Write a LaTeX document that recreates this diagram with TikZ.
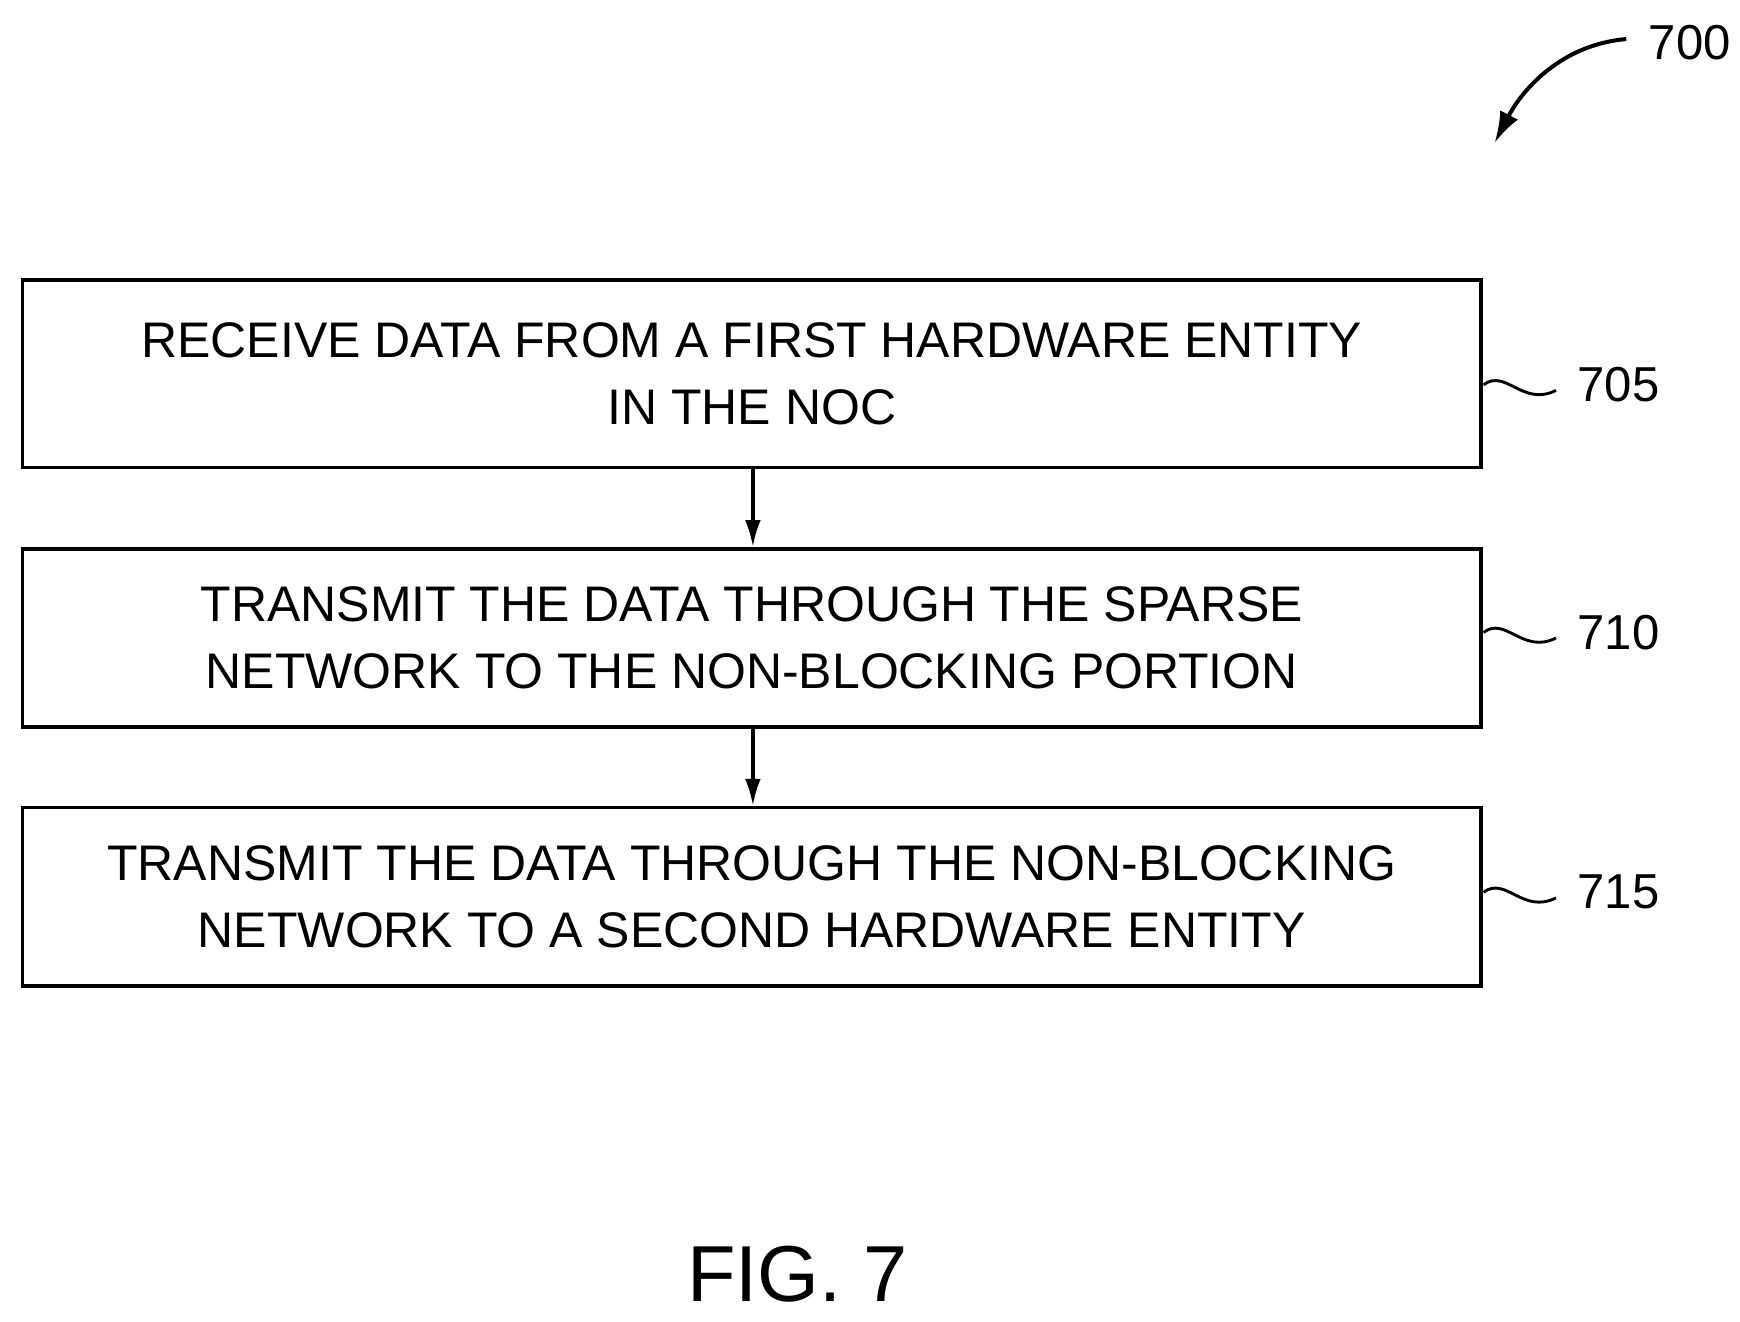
\documentclass[tikz,border=0pt]{standalone}
\usepackage{fontspec}
\setmainfont{Liberation Sans}
\begin{document}
\begin{tikzpicture}[x=0.5pt,y=-0.5pt,
 box/.style={draw,line width=1.6pt,minimum width=654pt,minimum height=84pt,align=center,font=\fontsize{22.4}{30}\selectfont,inner sep=0pt},
 lab/.style={font=\fontsize{22}{24}\selectfont},
 arr/.style={-{Latex[length=12pt,width=7pt]},line width=1.5pt},
 sq/.style={line width=1.3pt}]
\usetikzlibrary{arrows.meta}
\useasboundingbox (0,0) rectangle (1560,1185);
\node[box,minimum width=654pt] (b1) at (674,335) {RECEIVE DATA FROM A FIRST HARDWARE ENTITY\\IN THE NOC};
\node[box,minimum height=80pt] (b2) at (674,572) {TRANSMIT THE DATA THROUGH THE SPARSE\\NETWORK TO THE NON-BLOCKING PORTION};
\node[box,minimum height=80pt] (b3) at (674,804) {TRANSMIT THE DATA THROUGH THE NON-BLOCKING\\NETWORK TO A SECOND HARDWARE ENTITY};
\draw[arr] (b1.south -| 675,0) -- (b2.north -| 675,0);
\draw[arr] (b2.south -| 675,0) -- (b3.north -| 675,0);
\foreach \n/\y/\t in {a/345/705,b/567/710,c/800/715}{
 \node[lab] (l\n) at (1451,\y) {\t};
 \coordinate (s\n) at (1395,\y+5);
 \draw[sq] (1330,\y) .. controls (1350,\y-15) and (1365,\y+20) .. (s\n);
}
\node[lab] (l700) at (1515,38) {700};
\coordinate (c700) at (1458,35);
\draw[line width=1.8pt,-{Latex[length=14pt,width=9pt]}] (c700) .. controls (1400,40) and (1365,80) .. (1340,128);
\node[font=\fontsize{35.6}{40}\selectfont] (fig) at (715,1142) {FIG. 7};
\end{tikzpicture}
\end{document}
